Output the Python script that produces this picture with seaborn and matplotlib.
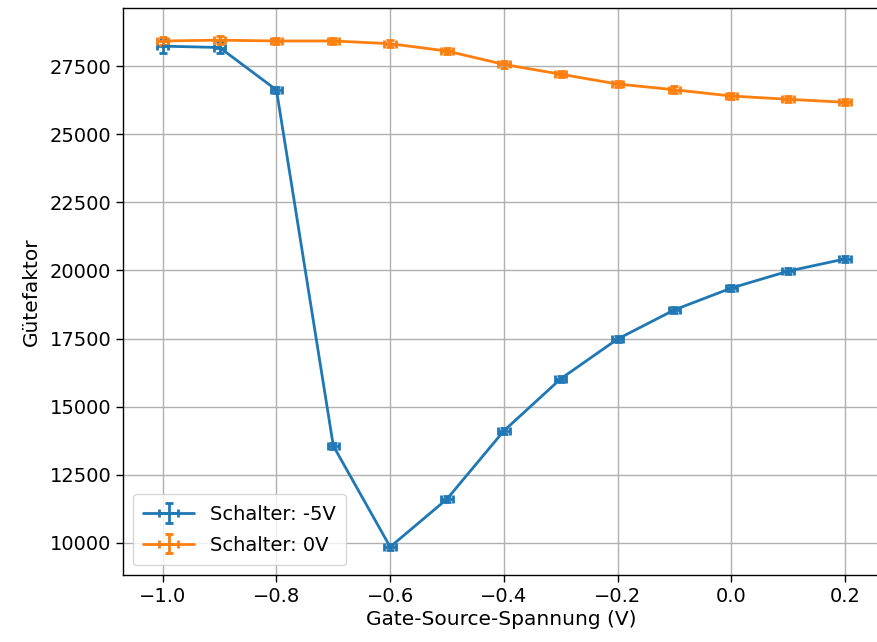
import numpy as np
import matplotlib
matplotlib.use("Agg")
import matplotlib.pyplot as plt
import seaborn as sns

spannung = [-1.0, -0.9, -0.8, -0.7, -0.6, -0.5, -0.4, -0.3, -0.2, -0.1, 0.0, 0.1, 0.2]
q_minus5 = [28230, 28180, 26620, 13560, 9850, 11610, 14110, 16020, 17480, 18550, 19350, 19970, 20420]
q_0 = [28420, 28450, 28420, 28420, 28320, 28050, 27560, 27200, 26840, 26630, 26400, 26280, 26170]
err_minus5 = [250, 200, 120, 100, 100, 100, 100, 100, 100, 100, 100, 100, 100]
err_0 = [160, 150, 120, 120, 120, 120, 120, 120, 120, 120, 110, 110, 110]
x_err = 0.01

sns.set_style("ticks")
plt.rcParams["font.family"] = ["DejaVu Sans"]
plt.rcParams["text.color"] = "black"
plt.rcParams["axes.labelcolor"] = "black"
plt.rcParams["xtick.color"] = "black"
plt.rcParams["ytick.color"] = "black"
colors = sns.color_palette("tab10")

fig = plt.figure(figsize=(8.78, 6.42), dpi=100)
ax = fig.add_axes([123 / 878, 67 / 642, 756 / 878, 567 / 642])

ax.errorbar(spannung, q_minus5, xerr=x_err, yerr=err_minus5, color=colors[0],
            linewidth=2, elinewidth=2, capsize=3, capthick=2, label="Schalter: -5V")
ax.errorbar(spannung, q_0, xerr=x_err, yerr=err_0, color=colors[1],
            linewidth=2, elinewidth=2, capsize=3, capthick=2, label="Schalter: 0V")

ax.set_xlim(-1.07, 0.26)
ax.set_ylim(8820, 29630)
ax.set_xticks([-1.0, -0.8, -0.6, -0.4, -0.2, 0.0, 0.2])
ax.set_yticks(np.arange(10000, 27501, 2500))
ax.grid(True, color="#b0b0b0", linewidth=1)
ax.tick_params(labelsize=14, length=5, width=1)
for s in ax.spines.values():
    s.set_color("black")
    s.set_linewidth(1)

ax.set_xlabel("Gate-Source-Spannung (V)", fontsize=14.5, labelpad=3)
ax.set_ylabel("Gütefaktor", fontsize=14.5, labelpad=6)
ax.legend(loc="lower left", fontsize=14, handlelength=2.6, labelspacing=0.6,
          borderpad=0.55)

fig.savefig("out.png", dpi=100)
